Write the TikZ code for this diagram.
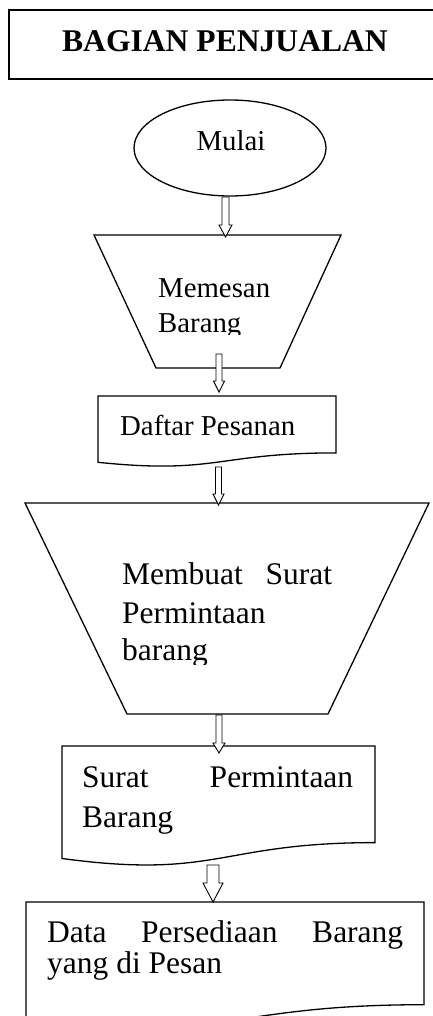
\documentclass[tikz,border=0pt]{standalone}
\usepackage{fontspec}
\setmainfont{Liberation Serif}
\usetikzlibrary{calc,shapes.geometric}
% hollow block arrow: from, to, shaft half width, head half width, head length
\newcommand\hollowarr[5]{%
  \draw[arrowline] ($(#1)+(-#3,0)$) -- ($(#2)+(-#3,-#5)$) -- ($(#2)+(-#4,-#5)$) -- (#2)
    -- ($(#2)+(#4,-#5)$) -- ($(#2)+(#3,-#5)$) -- ($(#1)+(#3,0)$) -- cycle;}
\begin{document}
\begin{tikzpicture}[x=1pt,y=-1pt,
  shapeline/.style={draw=black, line width=1.3pt, line join=miter},
  arrowline/.style={draw=black, line width=0.9pt, fill=white, line join=miter},
  lbl/.style={inner sep=0pt, anchor=base west, font=\fontsize{28.8}{34}\selectfont},
  biglbl/.style={inner sep=0pt, anchor=base west, font=\fontsize{31.5}{38}\selectfont},
  titlelbl/.style={inner sep=0pt, anchor=base, font=\fontsize{31.6}{38}\selectfont\bfseries}]
\useasboundingbox (0,0) rectangle (433,1016);
\fill[white] (0,0) rectangle (433,1016);

% title box (right edge lies outside the picture)
\draw[shapeline] (445,10) -- (9,10) -- (9,79) -- (445,79);
\node[titlelbl] (title) at (225,52) {BAGIAN PENJUALAN};

% start ellipse
\node[ellipse, shapeline, minimum width=192pt, minimum height=96pt, inner sep=0pt] (start) at (230,148) {};
\node[lbl, anchor=base] (startlbl) at (231,151) {Mulai};

% trapezoid 1
\draw[shapeline] (94,235) -- (341,235) -- (280,368) -- (156,368) -- cycle;
\node[lbl] (t1a) at (158,297) {Memesan};
\begin{scope}
  \clip (100,300) rectangle (340,334);
  \node[lbl] (t1b) at (158,332) {Barang};
\end{scope}

% document 1
\draw[shapeline] (98,396) -- (336,396) -- (336,452.9)
  .. controls (217,452.9) and (217,474.6) .. (98,462.3) -- cycle;
\node[lbl] (d1) at (120,435) {Daftar Pesanan};

% trapezoid 2
\draw[shapeline] (25,503) -- (429,503) -- (328,714) -- (127,714) -- cycle;
\node[biglbl] (t2a) at (122,584) {\makebox[210pt][s]{Membuat Surat}};
\node[biglbl] (t2b) at (122,623) {Permintaan};
\begin{scope}
  \clip (60,630) rectangle (400,664);
  \node[biglbl] (t2c) at (122,660) {barang};
\end{scope}

% document 2
\draw[shapeline] (62,746) -- (375,746) -- (375,842.6)
  .. controls (218.5,842.6) and (218.5,879.5) .. (62,858.5) -- cycle;
\node[biglbl] (d2a) at (82,787) {\makebox[271pt][s]{Surat Permintaan}};
\node[biglbl] (d2b) at (82,827) {Barang};

% document 3
\draw[shapeline] (26,902) -- (424,902) -- (424,1004.7)
  .. controls (225,1004.7) and (225,1043.8) .. (26,1021.6) -- cycle;
\node[biglbl] (d3a) at (47,942) {\makebox[356pt][s]{Data Persediaan Barang}};
\node[biglbl] (d3b) at (47,973) {yang di Pesan};

% connector end points
\coordinate (a1s) at (225.5,197);
\coordinate (a1e) at (225.5,237);
\coordinate (a2s) at (219,354);
\coordinate (a2e) at (219,392);
\coordinate (a3s) at (218.5,467);
\coordinate (a3e) at (218.5,505);
\coordinate (a4s) at (219,715);
\coordinate (a4e) at (219,753);
\coordinate (a5s) at (213,865);
\coordinate (a5e) at (213,902);

\hollowarr{a1s}{a1e}{3.5}{6.5}{12}
\hollowarr{a2s}{a2e}{3}{5.5}{11}
\hollowarr{a3s}{a3e}{3}{5.5}{11}
\hollowarr{a4s}{a4e}{3}{6}{10}
\hollowarr{a5s}{a5e}{6}{10}{19}
\end{tikzpicture}
\end{document}
